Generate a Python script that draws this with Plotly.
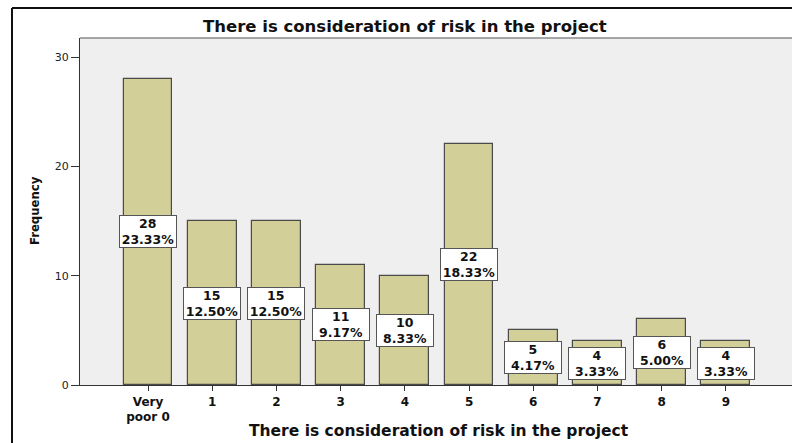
import plotly.graph_objects as go

# Frequency table for the risk-consideration rating
categories = ["Very<br>poor 0", "1", "2", "3", "4", "5", "6", "7", "8", "9"]
counts = [28, 15, 15, 11, 10, 22, 5, 4, 6, 4]
y_ticks = [0, 10, 20, 30]

title_text = "There is consideration of risk in the project"
total = sum(counts)
positions = list(range(len(categories)))

W, H = 792, 443
ML, MR, MT, MB = 80, 0, 38, 58
PW, PH = W - ML - MR, H - MT - MB


def px_x(px):
    return (px - ML) / PW


def px_y(py):
    return (H - MB - py) / PH


fig = go.Figure()
fig.add_trace(go.Bar(
    x=positions,
    y=counts,
    width=0.76,
    marker=dict(color="#D3CF98", line=dict(color="#4a4a4a", width=1.2)),
    hoverinfo="skip",
))

annotations = []
for xi, c in zip(positions, counts):
    annotations.append(dict(
        x=xi, y=c / 2, xref="x", yref="y",
        text=f"<b>{c}<br>{c / total * 100:.2f}%</b>",
        showarrow=False, xanchor="center", yanchor="middle",
        width=56, align="center",
        font=dict(family="DejaVu Sans", size=12.5, color="#111"),
        bgcolor="white", bordercolor="#555", borderwidth=1, borderpad=0,
    ))

annotations += [
    dict(x=px_x(405), y=px_y(26), xref="paper", yref="paper",
         text=f"<b>{title_text}</b>", showarrow=False,
         xanchor="center", yanchor="middle",
         font=dict(family="DejaVu Sans", size=16.5, color="#111")),
    dict(x=px_x(439), y=px_y(431), xref="paper", yref="paper",
         text=f"<b>{title_text}</b>", showarrow=False,
         xanchor="center", yanchor="middle",
         font=dict(family="DejaVu Sans", size=15.5, color="#111")),
    dict(x=px_x(34), y=px_y(210), xref="paper", yref="paper",
         text="<b>Frequency</b>", showarrow=False, textangle=-90,
         xanchor="center", yanchor="middle",
         font=dict(family="Liberation Sans Narrow, Arial Narrow, DejaVu Sans Condensed, sans-serif",
                   size=13, color="#111")),
]

shapes = [
    # outer frame (left and top edges)
    dict(type="line", xref="paper", yref="paper",
         x0=px_x(12), x1=px_x(12), y0=px_y(8), y1=px_y(443),
         line=dict(color="#111", width=2)),
    dict(type="line", xref="paper", yref="paper",
         x0=px_x(12), x1=1.0, y0=px_y(8), y1=px_y(8),
         line=dict(color="#111", width=2)),
    # top edge of the plotting region
    dict(type="line", xref="paper", yref="paper",
         x0=0, x1=1, y0=1, y1=1,
         line=dict(color="#8a8a8a", width=1.5)),
]

fig.update_layout(
    width=W, height=H,
    margin=dict(l=ML, r=MR, t=MT, b=MB, pad=0),
    paper_bgcolor="white",
    plot_bgcolor="#EFEFEF",
    showlegend=False,
    bargap=0,
    annotations=annotations,
    shapes=shapes,
    xaxis=dict(
        range=[-1.06, 10.03],
        tickmode="array", tickvals=positions,
        ticktext=[f"<b>{c}</b>" for c in categories],
        ticks="outside", ticklen=5, tickwidth=1.2, tickcolor="#333",
        showline=True, linecolor="#333", linewidth=1.2,
        showgrid=False, zeroline=False,
        tickfont=dict(family="DejaVu Sans", size=12, color="#111"),
        fixedrange=True,
    ),
    yaxis=dict(
        range=[0, 31.74],
        tickmode="array", tickvals=y_ticks,
        ticks="outside", ticklen=8, tickwidth=1.2, tickcolor="#333",
        showline=True, linecolor="#333", linewidth=1.2,
        showgrid=False, zeroline=False,
        tickfont=dict(family="DejaVu Sans", size=11, color="#222"),
        fixedrange=True,
    ),
)

fig.write_html("out.html")
